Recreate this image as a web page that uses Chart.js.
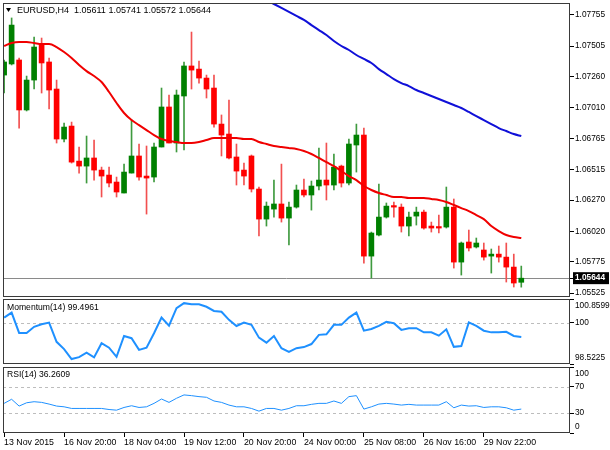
<!DOCTYPE html>
<html>
<head>
<meta charset="utf-8">
<title>EURUSD H4</title>
<script src="https://cdn.jsdelivr.net/npm/chart.js@4.4.1/dist/chart.umd.min.js"></script>
<style>
  html, body { margin: 0; padding: 0; background: #fff; }
  #wrap { position: relative; width: 610px; height: 450px; overflow: hidden; background: #fff; }
  canvas { position: absolute; left: 0; }
  #priceChart { top: 0; }
  #momChart { top: 299px; }
  #rsiChart { top: 366px; }
</style>
</head>
<body>
<div id="wrap">
  <canvas id="priceChart" width="610" height="300"></canvas>
  <canvas id="momChart" width="610" height="66"></canvas>
  <canvas id="rsiChart" width="610" height="84"></canvas>
</div>
<script>
// EURUSD H4 candles
const symbol = "EURUSD";
const timeframe = "H4";

const opens = [1.07273,1.07362,1.07394,1.06993,1.07233,1.07514,1.07378,1.07161,1.06760,1.06864,
  1.06583,1.06543,1.06608,1.06511,1.06471,1.06415,1.06327,1.06487,1.06624,1.06463,
  1.06455,1.06696,1.07017,1.06728,1.07105,1.07346,1.07321,1.07249,1.07169,1.06880,
  1.06800,1.06616,1.06511,1.06624,1.06359,1.06118,1.06198,1.06239,1.06126,1.06214,
  1.06351,1.06311,1.06383,1.06431,1.06391,1.06543,1.06407,1.06712,1.06792,1.05821,
  1.05990,1.06134,1.06222,1.06214,1.06062,1.06142,1.06174,1.06062,1.06054,1.06054,
  1.06214,1.05773,1.05934,1.05894,1.05870,1.05821,1.05837,1.05813,1.05733,1.05611];

const highs = [1.07394,1.07731,1.07410,1.07265,1.07578,1.07570,1.07410,1.07233,1.06888,1.06896,
  1.06696,1.06784,1.06752,1.06535,1.06535,1.06455,1.06559,1.06912,1.06720,1.06704,
  1.06728,1.07169,1.07113,1.07153,1.07378,1.07618,1.07386,1.07273,1.07273,1.06953,
  1.07073,1.06720,1.06567,1.06632,1.06375,1.06255,1.06431,1.06559,1.06255,1.06391,
  1.06439,1.06423,1.06688,1.06728,1.06640,1.06551,1.06760,1.06880,1.06848,1.06014,
  1.06399,1.06247,1.06255,1.06239,1.06174,1.06214,1.06190,1.06094,1.06150,1.06375,
  1.06279,1.05934,1.06030,1.05966,1.05926,1.05878,1.05902,1.05926,1.05837,1.05741];

const lows = [1.07129,1.07354,1.06848,1.06985,1.07161,1.07129,1.07001,1.06728,1.06736,1.06567,
  1.06487,1.06407,1.06431,1.06295,1.06375,1.06295,1.06327,1.06487,1.06431,1.06158,
  1.06415,1.06696,1.06728,1.06656,1.06672,1.07161,1.07209,1.07089,1.06856,1.06624,
  1.06600,1.06391,1.06391,1.06335,1.05982,1.06062,1.06134,1.06094,1.05910,1.06206,
  1.06295,1.06190,1.06351,1.06271,1.06351,1.06375,1.06391,1.06495,1.05765,1.05645,
  1.05982,1.06126,1.06134,1.06014,1.05982,1.06070,1.06038,1.06014,1.06006,1.06046,
  1.05725,1.05669,1.05862,1.05886,1.05789,1.05685,1.05773,1.05613,1.05573,1.05572];

const closes = [1.07378,1.07674,1.06993,1.07233,1.07498,1.07370,1.07153,1.06760,1.06856,1.06575,
  1.06543,1.06608,1.06511,1.06463,1.06407,1.06335,1.06495,1.06624,1.06455,1.06447,
  1.06696,1.07017,1.06728,1.07113,1.07346,1.07313,1.07249,1.07161,1.06880,1.06792,
  1.06608,1.06503,1.06463,1.06359,1.06118,1.06222,1.06239,1.06126,1.06214,1.06351,
  1.06311,1.06383,1.06431,1.06391,1.06535,1.06407,1.06720,1.06792,1.05821,1.06006,
  1.06134,1.06222,1.06214,1.06062,1.06134,1.06174,1.06046,1.06046,1.06046,1.06214,
  1.05773,1.05926,1.05886,1.05926,1.05813,1.05837,1.05813,1.05733,1.05605,1.05644];

// red (fast) and blue (slow) moving averages
const fastMA = [1.07506,1.07530,1.07538,1.07538,1.07530,1.07522,1.07522,1.07498,1.07458,1.07410,
  1.07354,1.07305,1.07265,1.07217,1.07137,1.07049,1.06969,1.06912,1.06872,1.06832,
  1.06792,1.06760,1.06744,1.06736,1.06728,1.06728,1.06736,1.06752,1.06768,1.06768,
  1.06768,1.06768,1.06760,1.06760,1.06736,1.06720,1.06704,1.06696,1.06688,1.06680,
  1.06664,1.06640,1.06608,1.06575,1.06543,1.06503,1.06463,1.06431,1.06383,1.06351,
  1.06327,1.06311,1.06295,1.06295,1.06287,1.06287,1.06287,1.06279,1.06271,1.06255,
  1.06231,1.06206,1.06182,1.06150,1.06118,1.06062,1.06022,1.05990,1.05974,1.05966];

const slowMA = [null,null,null,null,null,null,null,null,null,null,
  null,null,null,null,null,null,null,null,null,null,
  null,null,null,null,null,null,null,null,null,null,
  null,null,null,1.07939,1.07907,1.07875,1.07843,1.07811,1.07779,1.07747,
  1.07715,1.07674,1.07634,1.07594,1.07546,1.07506,1.07474,1.07434,1.07402,1.07370,
  1.07321,1.07281,1.07241,1.07209,1.07185,1.07153,1.07129,1.07105,1.07081,1.07057,
  1.07033,1.07009,1.06977,1.06944,1.06912,1.06880,1.06848,1.06824,1.06800,1.06784];

const momentum = [100.19,100.37,99.64,99.64,99.86,99.95,100.01,99.32,99.06,98.70,
  98.77,98.93,98.76,99.27,99.11,98.78,99.53,99.45,99.03,99.11,
  99.63,100.19,99.90,100.53,100.71,100.67,100.67,100.58,100.43,100.40,
  100.11,99.89,100.01,99.93,99.47,99.29,99.53,99.09,98.96,99.09,
  99.13,99.24,99.57,99.59,99.93,99.93,100.19,100.37,99.72,99.78,
  99.89,100.04,99.99,99.75,99.81,99.81,99.66,99.66,99.54,99.77,
  99.14,99.17,100.02,99.89,99.72,99.66,99.66,99.68,99.53,99.4961];

const rsi = [44.9,51.1,40.8,45.8,47.4,46.4,43.8,40.8,39.7,37.2,
  37.2,37.2,37.2,37.2,35.6,34.6,38.7,41.3,38.7,39.7,
  44.9,51.5,46.4,52.6,57.7,56.6,55.1,54.1,48.5,46.4,
  42.3,39.7,39.7,37.2,33.1,37.2,37.2,34.6,37.2,41.3,
  41.3,43.4,44.9,44.9,48.5,44.9,55.1,56.6,36.2,39.7,
  43.8,44.9,43.8,42.3,43.4,42.3,42.3,42.3,42.3,47.4,
  38.2,42.3,40.8,41.3,38.7,39.7,39.7,38.2,34.6,36.2609];

// axis ticks
const priceTicks = [1.07755,1.07505,1.07260,1.07010,1.06765,1.06515,1.06270,1.06020,1.05775,1.05525];
const momTicks = [98.5225, 100, 100.8599];
const rsiTicks = [0, 30, 70, 100];
const momLevels = [100];
const rsiLevels = [30, 70];
const tickBars = [0, 8, 16, 24, 32, 40, 48, 56, 64];
const tickLabels = ["13 Nov 2015","16 Nov 20:00","18 Nov 04:00","19 Nov 12:00","20 Nov 20:00",
  "24 Nov 00:00","25 Nov 08:00","26 Nov 16:00","29 Nov 22:00"];

const last = closes.length - 1;
const lastPrice = closes[last];

const FONT = '"Liberation Sans", Arial, sans-serif';
const BULL = "#008000", BEAR = "#ff0000";
const BULL_WICK = "#3f9a3f", BEAR_WICK = "#f25050";

Chart.defaults.font.family = FONT;
Chart.defaults.font.size = 8.3;
Chart.defaults.color = "#000";

// x range leaves MT4's empty shift on the right
const xRange = { type: "linear", min: -0.15, max: 75.5, offset: false };

const framePlugin = {
    id: "frame",
    afterDraw(chart) {
        const { ctx, chartArea: a } = chart;
        ctx.save();
        ctx.strokeStyle = "#3a3a3a";
        ctx.lineWidth = 1;
        ctx.strokeRect(a.left + 0.5, a.top + 0.5, a.right - a.left - 1, a.bottom - a.top - 1);
        ctx.restore();
    }
};

const levelsPlugin = {
    id: "levels",
    beforeDatasetsDraw(chart, args, opts) {
        if (!opts.values) return;
        const { ctx, chartArea: a, scales } = chart;
        ctx.save();
        ctx.strokeStyle = "#bdbdbd";
        ctx.lineWidth = 1;
        ctx.setLineDash([3, 3]);
        opts.values.forEach(v => {
            const y = Math.round(scales.y.getPixelForValue(v)) + 0.5;
            ctx.beginPath();
            ctx.moveTo(a.left, y);
            ctx.lineTo(a.right, y);
            ctx.stroke();
        });
        ctx.restore();
    }
};

const panelTextPlugin = {
    id: "panelText",
    afterDraw(chart, args, opts) {
        if (!opts.text) return;
        const { ctx, chartArea: a } = chart;
        ctx.save();
        ctx.fillStyle = "#000";
        ctx.font = (opts.size || 8.6) + "px " + FONT;
        ctx.textBaseline = "middle";
        if (opts.arrow) {
            ctx.beginPath();
            ctx.moveTo(a.left + 3, a.top + 5);
            ctx.lineTo(a.left + 8, a.top + 5);
            ctx.lineTo(a.left + 5.5, a.top + 9);
            ctx.closePath();
            ctx.fill();
        }
        ctx.fillText(opts.text, a.left + opts.x, a.top + opts.y);
        ctx.restore();
    }
};

// fixed-width right axis; its label padding must not shrink the panel
function fitRight(s) {
    s.width = 40;
    s.paddingTop = 0;
    s.paddingBottom = 0;
}

// edge labels of the indicator panels sit inside the panel, as in MT4
const edgeFont = c => {
    const t = c.tick ? c.tick.value : null;
    const s = c.scale;
    const edge = t === s.min || t === s.max;
    return edge ? { size: 8.3, lineHeight: 1.55 } : { size: 8.3 };
};

function rightAxis(min, max, ticks, callback, extra) {
    return Object.assign({
        type: "linear",
        position: "right",
        min: min,
        max: max,
        afterFit: fitRight,
        afterBuildTicks: s => { s.ticks = ticks.map(v => ({ value: v })); },
        border: { display: false },
        grid: { drawOnChartArea: false, drawTicks: true, tickLength: 4, tickColor: "#000" },
        ticks: { padding: 1, autoSkip: false, callback: callback, font: edgeFont }
    }, extra || {});
}

const isBull = i => closes[i] >= opens[i];

// price panel
new Chart(document.getElementById("priceChart"), {
    type: "bar",
    data: {
        datasets: [
            {
                type: "line",
                data: fastMA.map((v, i) => ({ x: i, y: v })),
                borderColor: "#f00000",
                borderWidth: 2,
                pointRadius: 0,
                cubicInterpolationMode: "monotone",
                order: 0
            },
            {
                type: "line",
                data: slowMA.map((v, i) => ({ x: i, y: v })),
                borderColor: "#1010d8",
                borderWidth: 2,
                pointRadius: 0,
                cubicInterpolationMode: "monotone",
                order: 0
            },
            {
                data: opens.map((o, i) => ({ x: i, y: [o, closes[i]] })),
                backgroundColor: c => isBull(c.dataIndex) ? BULL : BEAR,
                barThickness: 5,
                minBarLength: 1.5,
                grouped: false,
                order: 1
            },
            {
                data: highs.map((h, i) => ({ x: i, y: [lows[i], h] })),
                backgroundColor: c => isBull(c.dataIndex) ? BULL_WICK : BEAR_WICK,
                barThickness: 1,
                grouped: false,
                order: 2
            }
        ]
    },
    options: {
        responsive: false,
        animation: false,
        layout: { padding: { left: 3, top: 3, bottom: 3, right: 0 } },
        plugins: {
            legend: { display: false },
            tooltip: { enabled: false },
            panelText: {
                arrow: true, x: 14, y: 7.5, size: 9,
                text: symbol + "," + timeframe + "  " + [opens[last], highs[last], lows[last], closes[last]].map(v => v.toFixed(5)).join(" ")
            }
        },
        scales: {
            x: Object.assign({ display: false, grid: { offset: false } }, xRange),
            y: rightAxis(1.05493, 1.07851, priceTicks.concat([lastPrice]), v => v.toFixed(5), {
                grid: {
                    drawOnChartArea: true,
                    drawTicks: true,
                    tickLength: 4,
                    tickColor: "#000",
                    color: c => (c.tick && c.tick.value === lastPrice) ? "#8a8a8a" : "rgba(0,0,0,0)"
                },
                ticks: {
                    padding: 1,
                    autoSkip: false,
                    callback: v => v.toFixed(5),
                    color: c => (c.tick && c.tick.value === lastPrice) ? "#fff" : "#000",
                    font: c => (c.tick && c.tick.value === lastPrice) ? { weight: "bold", size: 8.3 } : { size: 8.3 },
                    showLabelBackdrop: c => !!(c.tick && c.tick.value === lastPrice),
                    backdropColor: "#000",
                    backdropPadding: { top: 1, bottom: 1, left: 2, right: 4 }
                }
            })
        }
    },
    plugins: [framePlugin, panelTextPlugin]
});

// momentum panel
new Chart(document.getElementById("momChart"), {
    type: "line",
    data: {
        datasets: [{
            data: momentum.map((v, i) => ({ x: i, y: v })),
            borderColor: "#1e90ff",
            borderWidth: 2,
            pointRadius: 0
        }]
    },
    options: {
        responsive: false,
        animation: false,
        layout: { padding: { left: 3, top: 0, bottom: 1, right: 0 } },
        plugins: {
            legend: { display: false },
            tooltip: { enabled: false },
            levels: { values: momLevels },
            panelText: { x: 4, y: 9, text: "Momentum(14) " + momentum[last].toFixed(4) }
        },
        scales: {
            x: Object.assign({ display: false }, xRange),
            y: rightAxis(momTicks[0], momTicks[momTicks.length - 1], momTicks, v => {
                const txt = v === 100 ? "100" : v.toFixed(4);
                if (v === momTicks[momTicks.length - 1]) return ["", txt];
                if (v === momTicks[0]) return [txt, ""];
                return txt;
            })
        }
    },
    plugins: [framePlugin, levelsPlugin, panelTextPlugin]
});

// RSI panel with the time axis
new Chart(document.getElementById("rsiChart"), {
    type: "line",
    data: {
        datasets: [{
            data: rsi.map((v, i) => ({ x: i, y: v })),
            borderColor: "#1e90ff",
            borderWidth: 1,
            pointRadius: 0
        }]
    },
    options: {
        responsive: false,
        animation: false,
        layout: { padding: { left: 3, top: 1, bottom: 0, right: 0 } },
        plugins: {
            legend: { display: false },
            tooltip: { enabled: false },
            levels: { values: rsiLevels },
            panelText: { x: 4, y: 8, text: "RSI(14) " + rsi[last].toFixed(4) }
        },
        scales: {
            x: Object.assign({
                display: true,
                afterFit: s => { s.height = 17; s.paddingLeft = 0; s.paddingRight = 0; },
                afterBuildTicks: s => { s.ticks = tickBars.map(v => ({ value: v })); },
                border: { display: false },
                grid: { drawOnChartArea: false, drawTicks: true, tickLength: 4, tickColor: "#000" },
                ticks: {
                    autoSkip: false,
                    maxRotation: 0,
                    align: "start",
                    padding: 0,
                    font: { size: 8.8 },
                    callback: v => tickLabels[tickBars.indexOf(v)]
                }
            }, xRange),
            y: rightAxis(0, 100, rsiTicks, v => {
                if (v === 100) return ["", "100"];
                if (v === 0) return ["0", ""];
                return String(v);
            })
        }
    },
    plugins: [framePlugin, levelsPlugin, panelTextPlugin]
});
</script>
</body>
</html>
